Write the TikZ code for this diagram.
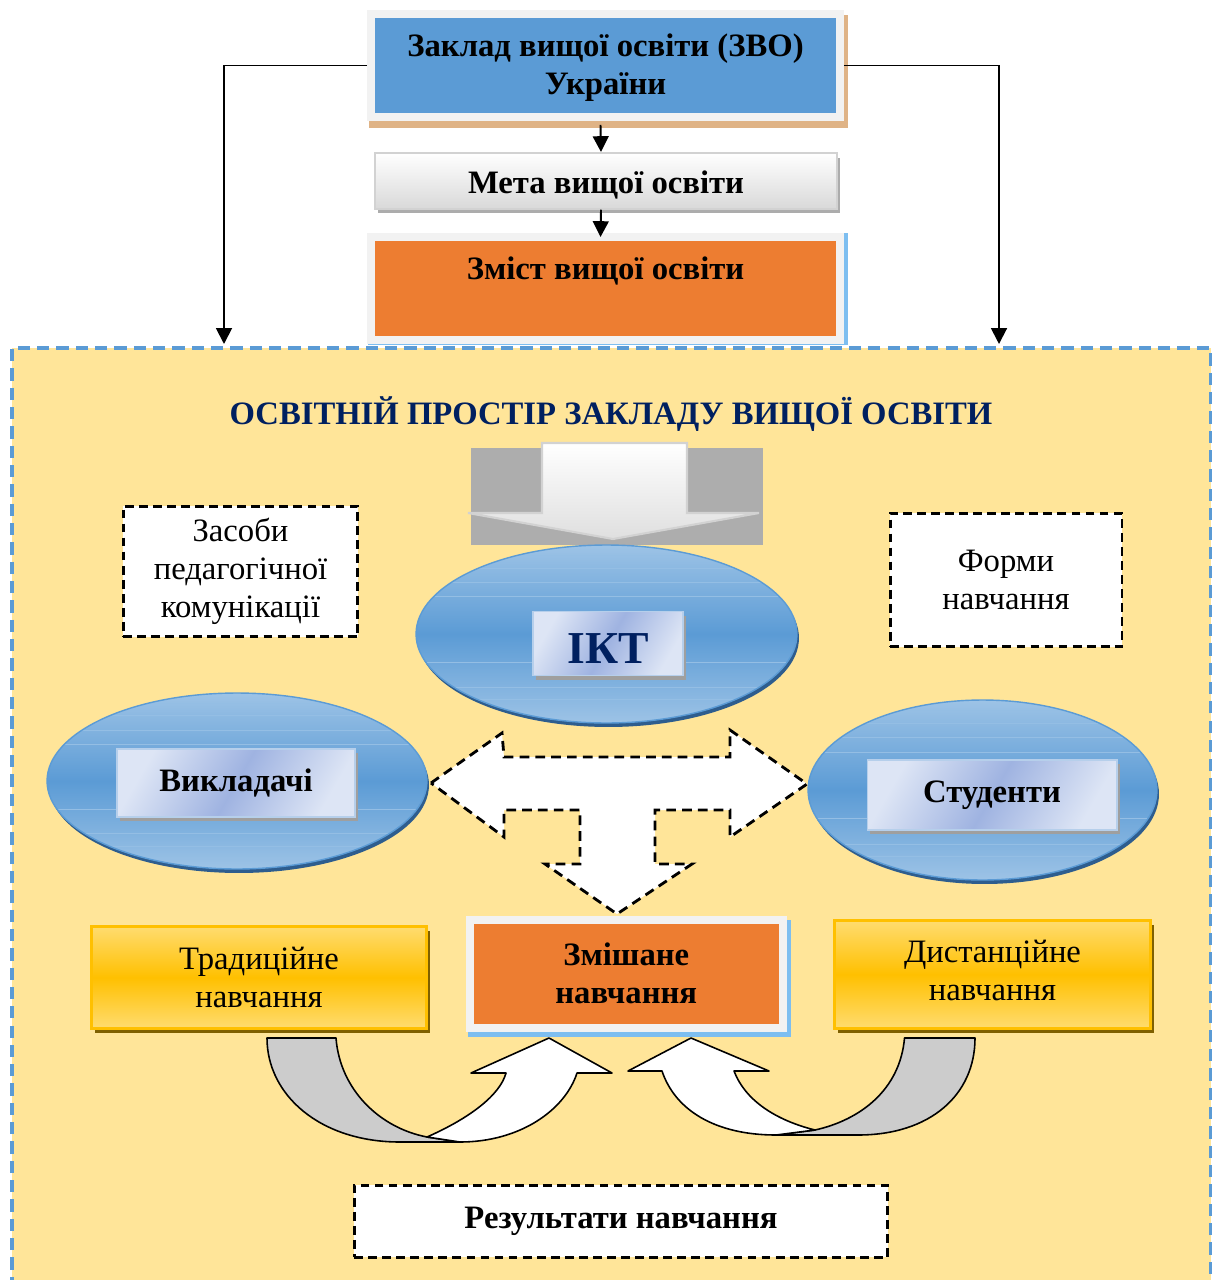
\documentclass[tikz,border=0pt]{standalone}
\usepackage{fontspec}
\setmainfont{Liberation Serif}
\usepackage{tikz}
\usetikzlibrary{positioning,shapes,shadows,arrows.meta,calc}

\definecolor{zvoblue}{HTML}{5B9BD5}
\definecolor{tanshade}{HTML}{DFB386}
\definecolor{framegrey}{HTML}{F2F2F2}
\definecolor{zmorange}{HTML}{ED7D31}
\definecolor{skyshade}{HTML}{7DBEF0}
\definecolor{spaceyellow}{HTML}{FFE599}
\definecolor{navy}{HTML}{002060}
\definecolor{blockgrey}{HTML}{ADADAD}
\definecolor{goldfill}{HTML}{FFC000}
\definecolor{goldlight}{HTML}{FFDC70}
\definecolor{goldshade}{HTML}{7F6000}
\definecolor{elllight}{HTML}{9DC3E6}
\definecolor{elldark}{HTML}{2E5D8E}
\definecolor{tagpale}{HTML}{DDE5F5}
\definecolor{tagmid}{HTML}{9FB3E1}
\definecolor{bendgrey}{HTML}{CCCCCC}

\newcommand{\bodysize}{\fontsize{18.6}{21.6}\selectfont}

\tikzstyle{framed}=[rectangle, draw=framegrey, line width=0.16cm, inner sep=0pt]
\tikzstyle{arrow}=[-{Triangle[length=9pt,width=9pt]}, line width=1.1pt]
\tikzstyle{dashbox}=[rectangle, draw=black, fill=white, line width=1.7pt, dash pattern=on 5pt off 3pt, align=center]
\tikzstyle{oval}=[ellipse, draw=zvoblue, line width=0.8pt, top color=elllight, bottom color=elllight, middle color=zvoblue,
  general shadow={fill=elldark, shadow xshift=0.04cm, shadow yshift=-0.08cm},
  path picture={\foreach \f in {0.06,0.13,0.21,0.29,0.66,0.8,0.87}
    \draw[white!35!zvoblue, line width=0.5pt] ($(path picture bounding box.north west)!\f!(path picture bounding box.south west)$) -- ($(path picture bounding box.north east)!\f!(path picture bounding box.south east)$);}]
\tikzstyle{tag}=[rectangle, draw=tagpale!70!zvoblue, line width=0.6pt, top color=tagpale, bottom color=tagpale, middle color=tagmid, shading angle=60,
  general shadow={fill=gray!75, shadow xshift=0.06cm, shadow yshift=-0.08cm}]
\tikzstyle{goldbox}=[rectangle, draw=goldfill, line width=1.5pt, top color=goldlight, bottom color=goldlight, middle color=goldfill, align=center,
  general shadow={fill=goldshade, shadow xshift=0.07cm, shadow yshift=-0.09cm}]
\tikzstyle{tarrow}=[draw=black, fill=white, line width=1.6pt, dash pattern=on 5.5pt off 3.5pt]
\tikzstyle{turnarrow}=[draw=black, line width=0.9pt, line join=round]

\begin{document}
\begin{tikzpicture}[x=0.02cm, y=-0.02cm, font=\bodysize]
\useasboundingbox (0,0) rectangle (1211,1280);

% the space of the institution
\node[rectangle, draw=zvoblue, fill=spaceyellow, line width=2.2pt, dash pattern=on 7pt off 4pt,
  minimum width=23.98cm, minimum height=18.9cm, anchor=north west] (space) at (10,346) {};
\node[font=\bodysize\bfseries, text=navy] (title) at (611,414) {ОСВІТНІЙ ПРОСТІР ЗАКЛАДУ ВИЩОЇ ОСВІТИ};

% top column
\fill[tanshade] (369,15) rectangle (848,128);
\node[framed, fill=zvoblue, minimum width=9.38cm, minimum height=2.06cm] (zvo) at (605.5,65.5) {};
\node[align=center, font=\bodysize\bfseries] (zvotext) at (605.5,68) {Заклад вищої освіти (ЗВО)\\України};
\fill[gray!65] (378,158) rectangle (840,213);
\node[rectangle, draw=gray!35, line width=1pt, top color=white, bottom color=gray!30, inner sep=0pt, minimum width=9.24cm,
  text height=0.82cm, text depth=0.3cm, anchor=north, font=\bodysize\bfseries] (meta) at (606,152) {Мета вищої освіти};
\fill[skyshade] (368,233) rectangle (848,345);
\node[framed, fill=zmorange, minimum width=9.37cm, text height=0.86cm, text depth=1.2cm, anchor=north, font=\bodysize\bfseries] (zmist) at (605.5,233) {Зміст вищої освіти};

\coordinate (lin) at (224,344);
\coordinate (rin) at (999,344);
\draw[arrow] (zvo.west) -| (lin);
\draw[arrow] (zvo.east) -| (rin);
\draw[arrow] ($(zvo.south)+(-5,4)$) -- ($(meta.north)+(-5,0)$);
\draw[arrow] ($(meta.south)+(-5,0)$) -- ($(zmist.north)+(-5,4)$);

% block arrow into ICT
\fill[blockgrey] (471,448) rectangle (763,545);
\draw[draw=gray!35, line width=1.2pt, top color=white, bottom color=gray!25]
  (542,443) -- (687,443) -- (687,513) -- (759,513) -- (613,539) -- (468,513) -- (542,513) -- cycle;

\node[oval, minimum width=7.62cm, minimum height=3.56cm] (ikt) at (606.5,634) {};
\node[tag, inner sep=0pt, minimum width=3.0cm, text height=1.04cm, text depth=0.24cm, anchor=north, text=navy,
  font=\fontsize{26}{30}\selectfont\bfseries] (iktlabel) at (608,611) {ІКТ};

\node[oval, minimum width=7.6cm, minimum height=3.52cm] (vykl) at (237,781) {};
\node[tag, minimum width=4.76cm, minimum height=1.36cm, font=\bodysize\bfseries] (vykllabel) at (236,783) {Викладачі};

\node[oval, minimum width=6.98cm, minimum height=3.6cm] (stud) at (982.5,790) {};
\node[tag, minimum width=5.0cm, minimum height=1.4cm, font=\bodysize\bfseries] (studlabel) at (992,795) {Студенти};

\node[dashbox, minimum width=4.7cm, minimum height=2.62cm] (zasoby) at (240.5,571.5) {Засоби\\педагогічної\\комунікації};
\node[dashbox, minimum width=4.64cm, minimum height=2.68cm] (formy) at (1006,580) {Форми\\навчання};

% dashed T arrow
\draw[tarrow] (431,783) -- (502,733) -- (504,757) -- (730,757) -- (730,730) -- (807,784) -- (730,837) -- (730,810)
  -- (655,810) -- (655,864) -- (692,864) -- (617,914) -- (545,864) -- (580,864) -- (580,810) -- (504,810) -- (504,837) -- cycle;

% forms of learning
\node[goldbox, minimum width=6.7cm, minimum height=2.05cm] (trad) at (259,977.5) {Традиційне\\навчання};
\node[goldbox, minimum width=6.33cm, minimum height=2.17cm] (dist) at (992.5,974.5) {};
\node[align=center] (disttext) at (992.5,970) {Дистанційне\\навчання};
\fill[skyshade] (468,920) rectangle (791,1037);
\node[framed, fill=zmorange, minimum width=6.27cm, minimum height=2.15cm, align=center, font=\bodysize\bfseries] (mixed) at (626.25,973.75) {Змішане\\навчання};

% curved arrows
\draw[turnarrow, fill=bendgrey] (267,1038) -- (336,1038) .. controls (340,1090) and (380,1128) .. (427,1137) -- (460,1142) -- (400,1142)
  .. controls (320,1142) and (267,1095) .. (267,1038) -- cycle;
\draw[turnarrow, fill=white] (427,1137) .. controls (470,1118) and (500,1095) .. (506,1073) -- (471,1073) -- (549,1038) -- (612,1073) -- (577,1073)
  .. controls (565,1110) and (520,1142) .. (460,1142) -- cycle;
\draw[turnarrow, fill=bendgrey] (975,1038) -- (904.5,1038) .. controls (900,1090) and (860,1120) .. (815,1130) -- (776,1135) -- (858,1135)
  .. controls (930,1135) and (975,1095) .. (975,1038) -- cycle;
\draw[turnarrow, fill=white] (815,1130) .. controls (775,1120) and (745,1100) .. (734,1071) -- (769,1071) -- (691,1038) -- (628,1071) -- (662,1071)
  .. controls (675,1110) and (715,1135) .. (776,1135) -- cycle;

\node[dashbox, minimum width=10.68cm, minimum height=1.44cm, font=\bodysize\bfseries] (result) at (621,1221) {Результати навчання};
\end{tikzpicture}
\end{document}
